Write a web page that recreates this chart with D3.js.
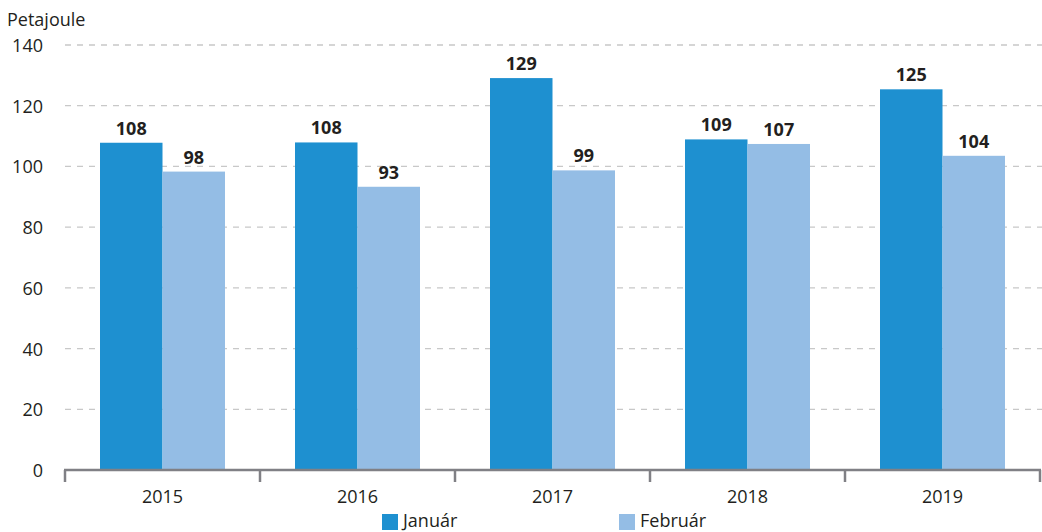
<!DOCTYPE html>
<html>
<head>
    <meta charset="utf-8" />
    <title>Petajoule chart</title>
    <style>
        body { margin: 0; overflow: hidden; background: #fff; }
        svg text { font-family: "Open Sans", "Noto Sans", sans-serif; fill: #231f20; }
    </style>
</head>
<body>
    <div id="chart"></div>
    <script src="https://d3js.org/d3.v7.min.js"></script>
    <script>
        // data
        var years = ["2015", "2016", "2017", "2018", "2019"];
        var series = ["Január", "Február"];
        var januar = [107.8, 107.9, 129.1, 108.9, 125.4];
        var februar = [98.3, 93.3, 98.7, 107.4, 103.5];
        var yTicks = [0, 20, 40, 60, 80, 100, 120, 140];
        var colors = ["#1e90d0", "#94bde5"];

        var width = 1042, height = 532;
        var svg = d3.select("#chart").append("svg")
            .attr("width", width)
            .attr("height", height);

        var x = d3.scaleBand().domain(years).range([65, 1040]).paddingInner(0).paddingOuter(0);
        var inner = d3.scaleBand().domain(series).range([35, x.bandwidth() - 35]);
        var y = d3.scaleLinear().domain([0, 140]).range([470, 45]);

        // gridlines
        svg.append("g")
            .selectAll("line")
            .data(yTicks.filter(d => d > 0))
            .join("line")
            .attr("x1", 65)
            .attr("x2", 1042)
            .attr("y1", d => y(d))
            .attr("y2", d => y(d))
            .style("stroke", "#c8c8c8")
            .style("stroke-width", 1.3)
            .style("stroke-dasharray", "6,6");

        // y labels
        var yAxis = svg.append("g")
            .attr("transform", "translate(43,0)")
            .call(d3.axisLeft(y).tickValues(yTicks).tickSize(0).tickPadding(0));
        yAxis.select(".domain").remove();
        yAxis.selectAll("text")
            .style("font-size", "18px")
            .attr("dy", "0.36em")
            .style("font-family", "'Open Sans', 'Noto Sans', sans-serif")
            .style("fill", "#231f20");

        svg.append("text")
            .attr("x", 7)
            .attr("y", 26)
            .style("font-size", "18px")
            .text("Petajoule");

        // bars
        var rows = years.map((yr, i) => ({ year: yr, values: [januar[i], februar[i]] }));
        var groups = svg.append("g")
            .selectAll("g")
            .data(rows)
            .join("g")
            .attr("transform", d => `translate(${x(d.year)},0)`);

        groups.selectAll("rect")
            .data(d => d.values.map((v, j) => ({ key: series[j], value: v, j: j })))
            .join("rect")
            .attr("x", d => inner(d.key))
            .attr("width", inner.bandwidth())
            .attr("y", d => y(d.value))
            .attr("height", d => y(0) - y(d.value))
            .attr("fill", d => colors[d.j]);

        groups.selectAll("text.val")
            .data(d => d.values.map((v, j) => ({ key: series[j], value: v })))
            .join("text")
            .attr("class", "val")
            .attr("x", d => inner(d.key) + inner.bandwidth() / 2)
            .attr("y", d => y(d.value) - 8)
            .attr("text-anchor", "middle")
            .style("font-size", "18px")
            .style("font-weight", "bold")
            .text(d => Math.round(d.value));

        // x axis
        var xAxis = svg.append("g")
            .attr("transform", "translate(0,470)")
            .call(d3.axisBottom(x).tickSize(0).tickPadding(20));
        xAxis.select(".domain").remove();
        xAxis.selectAll("text")
            .style("font-size", "18px")
            .style("font-family", "'Open Sans', 'Noto Sans', sans-serif")
            .style("fill", "#231f20");
        xAxis.append("line")
            .attr("x1", 64)
            .attr("x2", 1041)
            .attr("y1", 0)
            .attr("y2", 0)
            .style("stroke", "#808085")
            .style("stroke-width", 2.5);
        xAxis.selectAll("line.tk")
            .data(years.map(d => x(d)).concat([x.range()[1]]))
            .join("line")
            .attr("class", "tk")
            .attr("x1", d => d)
            .attr("x2", d => d)
            .attr("y1", 0)
            .attr("y2", 12)
            .style("stroke", "#808085")
            .style("stroke-width", 2.5);

        // legend
        var legendX = [382, 619];
        var legend = svg.append("g")
            .selectAll("g")
            .data(series)
            .join("g")
            .attr("transform", (d, i) => `translate(${legendX[i]},514)`);
        legend.append("rect")
            .attr("width", 16)
            .attr("height", 16)
            .attr("fill", (d, i) => colors[i]);
        legend.append("text")
            .attr("x", 21)
            .attr("y", 13)
            .style("font-size", "18px")
            .text(d => d);
    </script>
</body>
</html>
